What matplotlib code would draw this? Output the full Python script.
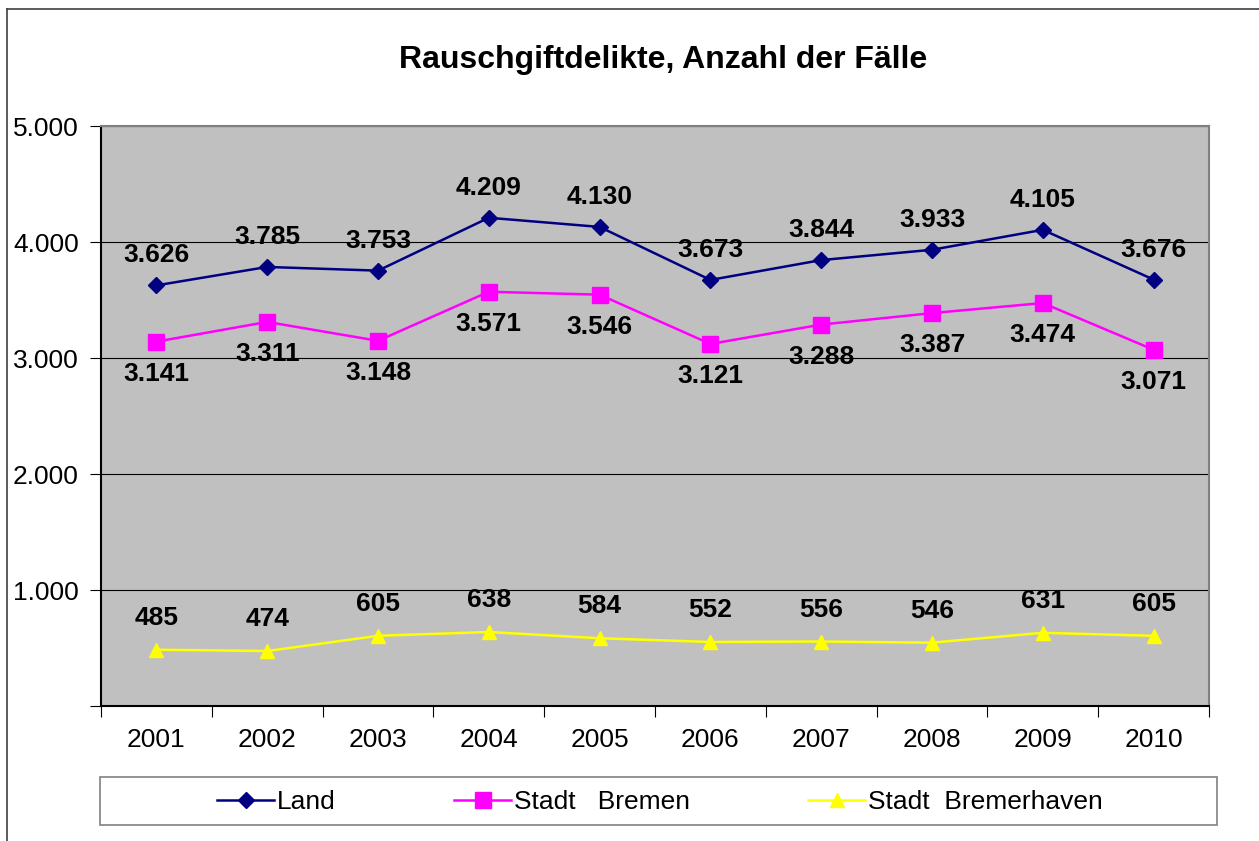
import matplotlib
matplotlib.use("Agg")
import matplotlib.pyplot as plt
from matplotlib.lines import Line2D
from matplotlib.patches import Rectangle
from matplotlib.ticker import FuncFormatter

plt.rcParams['font.family'] = ['Liberation Sans', 'DejaVu Sans']

years = ["2001", "2002", "2003", "2004", "2005", "2006", "2007", "2008", "2009", "2010"]
land = [3626, 3785, 3753, 4209, 4130, 3673, 3844, 3933, 4105, 3676]
bremen = [3141, 3311, 3148, 3571, 3546, 3121, 3288, 3387, 3474, 3071]
bremerhaven = [485, 474, 605, 638, 584, 552, 556, 546, 631, 605]

series = [
    ("Land", land, "#000080", "D", 8.5, 30),
    ("Stadt   Bremen", bremen, "#FF00FF", "s", 11, -32),
    ("Stadt  Bremerhaven", bremerhaven, "#FFFF00", "^", 10.5, 32),
]


def de_num(v, _pos=None):
    return f"{v:,.0f}".replace(",", ".")


W, H = 1259, 841
fig = plt.figure(figsize=(W / 100, H / 100), dpi=100)
# outer chart frame (only top/left visible in the crop)
fig.add_artist(Line2D([7 / W, 1.0], [1 - 9 / H] * 2, color="#404040", lw=1.2))
fig.add_artist(Line2D([7 / W] * 2, [0.0, 1 - 9 / H], color="#404040", lw=1.2))

ax = fig.add_axes([101 / W, 135 / H, 1108 / W, 580 / H])
ax.set_facecolor("#C0C0C0")
x = list(range(len(years)))

for name, vals, color, marker, ms, off in series:
    ax.plot(x, vals, color=color, marker=marker, markersize=ms, lw=1.8, label=name)
    for xi, v in zip(x, vals):
        ax.annotate(de_num(v), (xi, v), xytext=(0, off), textcoords="offset pixels",
                    ha="center", va="center", fontsize=19, fontweight="bold")

ax.set_xlim(-0.5, len(years) - 0.5)
ax.set_ylim(0, 5000)
ax.set_yticks(range(0, 5001, 1000))
ax.yaxis.set_major_formatter(FuncFormatter(lambda v, p: "" if v == 0 else de_num(v)))
ax.grid(axis="y", color="black", lw=0.8)
ax.set_axisbelow(True)

ax.set_xticks([i - 0.5 for i in range(len(years) + 1)])
ax.set_xticklabels([])
ax.set_xticks(x, minor=True)
ax.set_xticklabels(years, minor=True)
ax.tick_params(axis="x", which="major", length=8, direction="out", color="black")
ax.tick_params(axis="x", which="minor", length=0, pad=16, labelsize=19)
ax.tick_params(axis="y", length=8, direction="out", pad=8, labelsize=19)

ax.spines["left"].set_color("black")
ax.spines["bottom"].set_color("black")
ax.spines["top"].set_color("#808080")
ax.spines["right"].set_color("#808080")
for s in ax.spines.values():
    s.set_linewidth(1.5)

fig.text(663 / W, 1 - 60 / H, "Rauschgiftdelikte, Anzahl der Fälle",
         ha="center", va="center", fontsize=23, fontweight="bold")

# legend box spans the full width, entries centred inside it
fig.add_artist(Rectangle((100 / W, 16 / H), 1117 / W, 48 / H, transform=fig.transFigure,
                         facecolor="white", edgecolor="#808080", lw=1.2))
fig.legend(loc="center", ncol=3, bbox_to_anchor=(660 / W, 39 / H),
           fontsize=19, frameon=False, handlelength=2.15, handletextpad=0.1,
           columnspacing=4.5, borderaxespad=0)

fig.savefig("out.png", dpi=100)
